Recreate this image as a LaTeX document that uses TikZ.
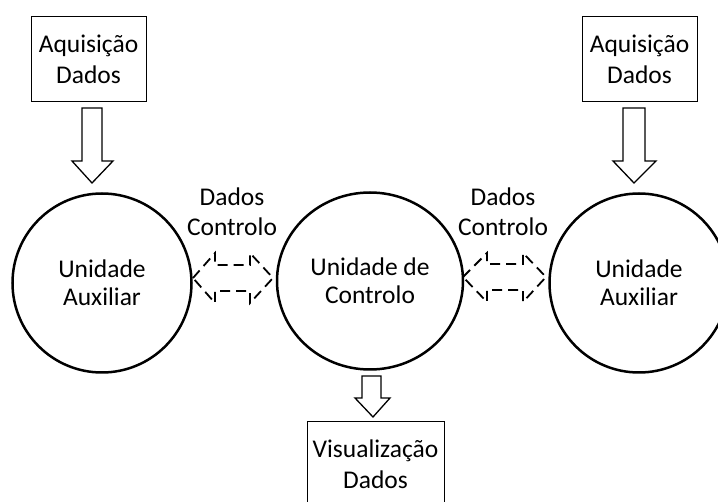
\documentclass[tikz,border=0pt]{standalone}
\usepackage{fontspec}
\setmainfont{Carlito}
\usetikzlibrary{shapes.geometric}
\newcommand{\boxfont}{\fontsize{25.5}{31}\selectfont}
\newcommand{\unitfont}{\fontsize{25.5}{28}\selectfont}
\newcommand{\labfont}{\fontsize{25.5}{30}\selectfont}
\begin{document}
\begin{tikzpicture}[x=1pt,y=-1pt,
  infobox/.style={draw, line width=1pt, minimum width=115pt, minimum height=85pt,
    inner sep=0pt, align=center, font=\boxfont},
  unit/.style={draw, line width=2.5pt, circle, inner sep=0pt, align=center,
    minimum size=179pt, font=\unitfont},
  flowlabel/.style={align=center, inner sep=0pt, font=\labfont},
  blockarrow/.style={draw, line width=1.3pt, fill=white, line join=miter},
  dasharrow/.style={draw, line width=1.8pt, dash pattern=on 10pt off 6pt, line join=miter}]

\useasboundingbox (0,0) rectangle (718,502);
\clip (0,0) rectangle (718,502);

% acquisition boxes and display box
\node[infobox] (acqL) at (88.5,59.5) {Aquisição\\Dados};
\node[infobox] (acqR) at (639.5,59.5) {Aquisição\\Dados};
\node[infobox, minimum width=137pt, minimum height=84pt] (vis) at (375.5,464) {Visualização\\Dados};

% processing units
\node[unit] (auxL) at (102,283) {Unidade\\Auxiliar};
\node[unit, ellipse, minimum width=186pt, minimum height=177pt] (ctrl) at (370,281) {Unidade de\\Controlo};
\node[unit] (auxR) at (639,283) {Unidade\\Auxiliar};

% labels over the data links
\node[flowlabel] (labL) at (232,212) {Dados\\Controlo};
\node[flowlabel] (labR) at (503,212) {Dados\\Controlo};

% block arrows: acquisition -> auxiliary units, control -> display
\draw[blockarrow] (82,108) -- (102,108) -- (102,161) -- (113,161) -- (92,183)
  -- (72,161) -- (82,161) -- cycle;
\draw[blockarrow] (623,108) -- (645,108) -- (645,161) -- (656,161) -- (634,183)
  -- (613,161) -- (623,161) -- cycle;
\draw[blockarrow] (362,376) -- (381,376) -- (381,398) -- (390,398) -- (373,417)
  -- (355,398) -- (362,398) -- cycle;

% dashed double arrows: data exchange between units
\draw[dasharrow] (193,278) -- (215,253) -- (215,265) -- (250,265) -- (250,253)
  -- (273,278) -- (250,303) -- (250,291) -- (215,291) -- (215,303) -- cycle;
\draw[dasharrow] (463,277) -- (487,253) -- (487,264) -- (523,264) -- (523,253)
  -- (546,277) -- (523,302) -- (523,290) -- (487,290) -- (487,302) -- cycle;
\end{tikzpicture}
\end{document}
